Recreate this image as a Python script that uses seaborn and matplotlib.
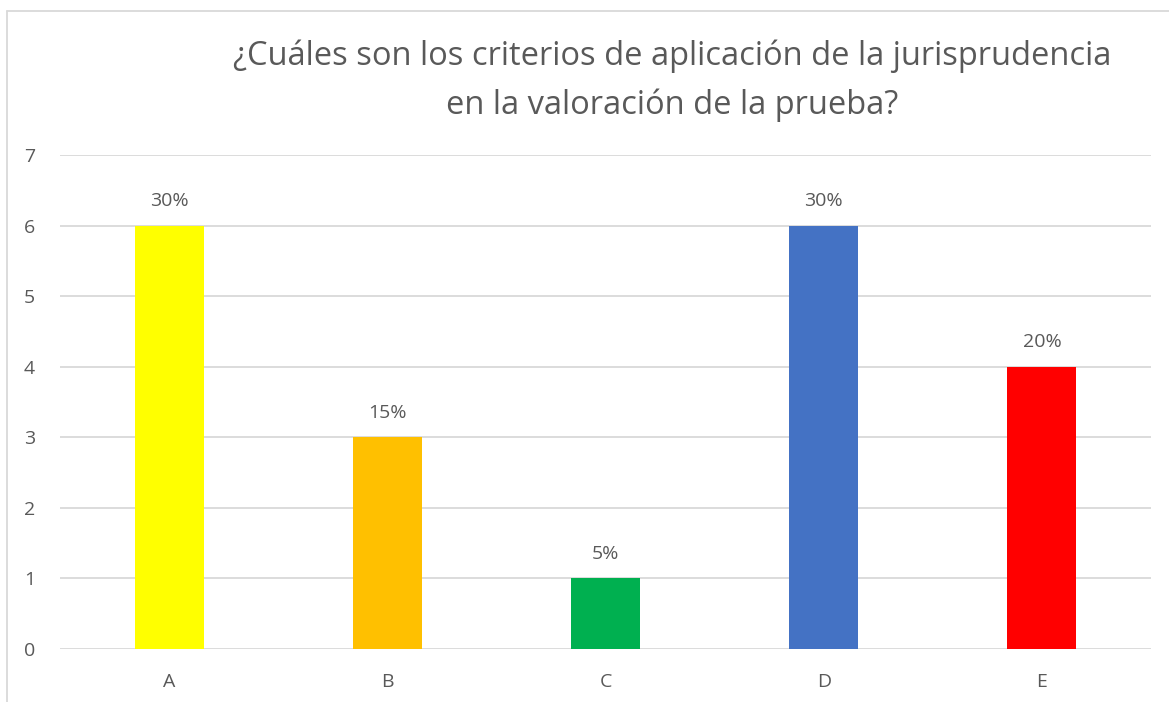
import matplotlib
matplotlib.use("Agg")
import matplotlib.pyplot as plt
from matplotlib.lines import Line2D
import seaborn as sns
import pandas as pd

# === DATA ===
categories = ["A", "B", "C", "D", "E"]
counts = [6, 3, 1, 6, 4]
percent_labels = ["30%", "15%", "5%", "30%", "20%"]
bar_colors = ["#FFFF00", "#FFC000", "#00B050", "#4472C4", "#FF0000"]
title_lines = ["¿Cuáles son los criterios de aplicación de la jurisprudencia",
               "en la valoración de la prueba?"]

TEXT_COLOR = "#595959"
GRID_COLOR = "#D9D9D9"

sns.set_theme(style="white")
plt.rcParams["font.family"] = ["Open Sans", "DejaVu Sans"]

df = pd.DataFrame({"category": categories, "count": counts})

fig = plt.figure(figsize=(11.69, 7.02), dpi=100)
W, H = 1169, 702
ax = fig.add_axes([60 / W, 1 - 649 / H, (1151 - 60) / W, (649 - 155) / H])

sns.barplot(data=df, x="category", y="count", hue="category",
            palette=bar_colors, width=0.317, legend=False, ax=ax,
            saturation=1, linewidth=0)

ax.set_ylim(0, 7)
ax.set_xlim(-0.5, len(categories) - 0.5)
ax.set_yticks(range(0, 8))
ax.yaxis.grid(True, color=GRID_COLOR, linewidth=1.3)
ax.set_axisbelow(True)
for side in ["top", "right", "left", "bottom"]:
    ax.spines[side].set_visible(False)
ax.set_xlabel("")
ax.set_ylabel("")
ax.tick_params(axis="y", length=0, pad=18, labelsize=14, labelcolor=TEXT_COLOR)
ax.tick_params(axis="x", length=0, pad=17, labelsize=14, labelcolor=TEXT_COLOR)

# percentage labels above bars
for container, lab in zip(ax.containers, percent_labels):
    ax.bar_label(container, labels=[lab], padding=11, fontsize=14, color=TEXT_COLOR)

# two-line title, baselines placed separately
for line, baseline in zip(title_lines, [65, 114]):
    fig.text(672 / W, 1 - baseline / H, line, ha="center", va="baseline",
             fontsize=23.5, color=TEXT_COLOR)

# chart area border (left and top edges visible)
fig.add_artist(Line2D([7 / W, 7 / W], [0, 1 - 11 / H], transform=fig.transFigure,
                      color=GRID_COLOR, linewidth=1.3))
fig.add_artist(Line2D([7 / W, 1], [1 - 11 / H, 1 - 11 / H], transform=fig.transFigure,
                      color=GRID_COLOR, linewidth=1.3))

plt.savefig("out.png", dpi=100)
